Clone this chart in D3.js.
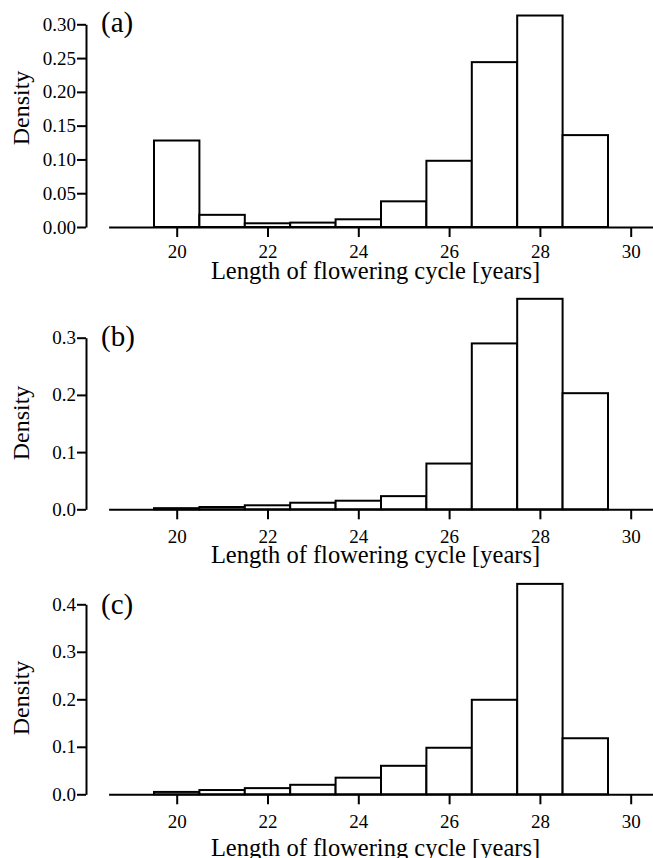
<!DOCTYPE html>
<html>
<head>
<meta charset="utf-8">
<script src="https://cdn.jsdelivr.net/npm/d3@7"></script>
<style>
  body { margin: 0; background: #fff; }
  svg text { font-family: "Liberation Serif", Tinos, "DejaVu Serif", serif; fill: #000; }
</style>
</head>
<body>
<div id="chart"></div>
<script>
// bins are one year wide, centred on each length
const lengths = [20, 21, 22, 23, 24, 25, 26, 27, 28, 29];
const densityA = [0.128, 0.018, 0.0055, 0.0065, 0.0114, 0.038, 0.098, 0.244, 0.313, 0.136];
const densityB = [0.002, 0.004, 0.007, 0.0115, 0.015, 0.023, 0.080, 0.290, 0.368, 0.203];
const densityC = [0.005, 0.009, 0.013, 0.020, 0.035, 0.060, 0.098, 0.199, 0.443, 0.118];

const xTicks = [20, 22, 24, 26, 28, 30];
const yTicksA = [0, 0.05, 0.10, 0.15, 0.20, 0.25, 0.30];
const yTicksB = [0, 0.1, 0.2, 0.3];
const yTicksC = [0, 0.1, 0.2, 0.3, 0.4];
const panelLabels = ["(a)", "(b)", "(c)"];
const xTitle = "Length of flowering cycle [years]";
const yTitle = "Density";

const width = 653, height = 858;
const serif = '"Liberation Serif", Tinos, "DejaVu Serif", serif';

const panels = [
  { label: panelLabels[0], values: densityA, ticks: yTicksA, fmt: ".2f", top: 24.3, bottom: 227, labelY: 32, tickPad: 7.5, titleDy: 51.5, yTitleY: 108 },
  { label: panelLabels[1], values: densityB, ticks: yTicksB, fmt: ".1f", top: 337.7, bottom: 509.3, labelY: 346, tickPad: 10, titleDy: 54, yTitleY: 423 },
  { label: panelLabels[2], values: densityC, ticks: yTicksC, fmt: ".1f", top: 604.3, bottom: 794.3, labelY: 614, tickPad: 10, titleDy: 61.5, yTitleY: 698 }
];

const x = d3.scaleLinear()
            .domain([18.5, 31.5])
            .range([108.6, 108.6 + 13 * 45.4]);

const svg = d3.select("#chart")
  .append("svg")
    .attr("width", width)
    .attr("height", height)
    .style("display", "block");

panels.forEach(function(p) {
  const y = d3.scaleLinear()
              .domain([0, d3.max(p.ticks)])
              .range([p.bottom, p.top]);

  const g = svg.append("g");

  // bars
  g.selectAll(".bar")
    .data(lengths.map((d, i) => ({ len: d, value: p.values[i] })))
    .enter().append("rect")
      .attr("class", "bar")
      .attr("x", d => x(d.len - 0.5))
      .attr("y", d => y(d.value))
      .attr("width", d => x(d.len + 0.5) - x(d.len - 0.5))
      .attr("height", d => y(0) - y(d.value))
      .attr("fill", "#fff")
      .attr("stroke", "#000")
      .attr("stroke-width", 2);

  // x axis
  const xAxis = g.append("g")
      .attr("transform", `translate(0,${p.bottom})`)
      .call(d3.axisBottom(x)
              .tickValues(xTicks)
              .tickSize(10)
              .tickSizeOuter(0)
              .tickPadding(p.tickPad));

  // y axis
  const yAxis = g.append("g")
      .attr("transform", "translate(86,0)")
      .call(d3.axisLeft(y)
              .tickValues(p.ticks)
              .tickFormat(d3.format(p.fmt))
              .tickSize(9)
              .tickSizeOuter(0)
              .tickPadding(1));

  [xAxis, yAxis].forEach(function(a) {
    a.attr("font-family", serif).attr("font-size", 19);
    a.select(".domain").attr("stroke-width", 2);
    a.selectAll(".tick line").attr("stroke-width", 2);
    a.selectAll("text")
      .attr("fill", "#000")
      .style("font-size", "19px");
  });

  g.append("text")
      .attr("x", 375.5)
      .attr("y", p.bottom + p.titleDy)
      .attr("text-anchor", "middle")
      .style("font-size", "24.5px")
      .text(xTitle);

  g.append("text")
      .attr("transform", `translate(29,${p.yTitleY}) rotate(-90)`)
      .attr("text-anchor", "middle")
      .style("font-size", "24px")
      .text(yTitle);

  g.append("text")
      .attr("x", 101)
      .attr("y", p.labelY)
      .style("font-size", "29px")
      .text(p.label);
});
</script>
</body>
</html>
